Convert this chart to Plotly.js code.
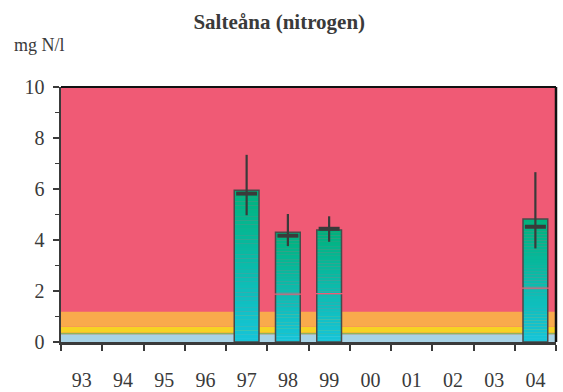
<!DOCTYPE html>
<html>
<head>
<meta charset="utf-8">
<script src="https://cdn.plot.ly/plotly-3.0.1.min.js"></script>
<style>
html,body{margin:0;padding:0;background:#fff;}
#chart{width:563px;height:392px;}
#chart text{font-family:"Liberation Serif","Times New Roman","DejaVu Serif",serif !important;}
</style>
</head>
<body>
<div id="chart"></div>
<script>
// ---- data ----
const years = ['93','94','95','96','97','98','99','00','01','02','03','04'];
const barValues  = [null,null,null,null,5.95,4.30,4.39,null,null,null,null,4.82];
const meanValues = [null,null,null,null,5.82,4.17,4.44,null,null,null,null,4.52];
const maxValues  = [null,null,null,null,7.34,5.02,4.93,null,null,null,null,6.66];
const minValues  = [null,null,null,null,4.97,3.76,3.93,null,null,null,null,3.67];
const innerLine  = [null,null,null,null,null,1.88,1.90,null,null,null,null,2.11];
// classification bands (mg N/l)
const bandLimits = [0, 0.3, 0.36, 0.6, 1.2, 10];
const bandColors = ['#a8d3e6','#8cb45c','#f6d324','#f9aa4c','#f05a75'];

// ---- gradient bars built from barValues ----
const N = 40;
const gradTop = [0,178,125], gradBot = [22,196,216];
const traces = [];
for (let i = 0; i < N; i++) {
  const t = i / (N - 1);
  const c = gradBot.map((b, k) => Math.round(b + (gradTop[k] - b) * t));
  traces.push({
    type: 'bar', x: years,
    y: barValues.map(v => v == null ? null : v / N * (i === N - 1 ? 1 : 1.04)),
    base: barValues.map(v => v == null ? null : v * i / N),
    width: 0.6,
    marker: {color: `rgb(${c[0]},${c[1]},${c[2]})`, line: {width: 0}},
    hoverinfo: 'skip', showlegend: false
  });
}
// outline
traces.push({
  type: 'bar', x: years, y: barValues, base: 0, width: 0.6,
  marker: {color: 'rgba(0,0,0,0)', line: {color: '#4a4a4a', width: 1.5}},
  showlegend: false
});
// inner red lines
traces.push({
  type: 'scatter', mode: 'markers', x: years, y: innerLine,
  marker: {symbol: 'line-ew', size: 23, line: {color: '#f05a75', width: 1.2}},
  showlegend: false
});
// mean with range
traces.push({
  type: 'scatter', mode: 'markers', x: years, y: meanValues,
  marker: {symbol: 'line-ew', size: 15, line: {color: '#3a3a3a', width: 4}},
  error_y: {type: 'data', symmetric: false,
    array: maxValues.map((v, i) => v == null ? null : v - meanValues[i]),
    arrayminus: minValues.map((v, i) => v == null ? null : meanValues[i] - v),
    color: '#3a3a3a', thickness: 2.2, width: 0},
  showlegend: false
});

const shapes = bandColors.map((c, i) => ({
  type: 'rect', xref: 'paper', yref: 'y', x0: 0, x1: 1,
  y0: bandLimits[i], y1: bandLimits[i + 1],
  fillcolor: c, line: {width: 0}, layer: 'below'
}));
// top & right frame
shapes.push({type: 'line', xref: 'paper', yref: 'paper', x0: 0, x1: 1, y0: 1, y1: 1, line: {color: '#111', width: 2}});
shapes.push({type: 'line', xref: 'paper', yref: 'paper', x0: 1, x1: 1, y0: 0, y1: 1, line: {color: '#111', width: 2.5}});

const fam = 'Liberation Serif';
const ink = '#3a3a3a';
const layout = {
  width: 563, height: 392,
  margin: {l: 61, r: 7, t: 87, b: 50},
  paper_bgcolor: '#ffffff', plot_bgcolor: '#f05a75',
  barmode: 'overlay', showlegend: false,
  font: {family: fam, color: ink},
  title: {text: '<b>Salteåna (nitrogen)</b>', font: {family: fam, size: 21, color: ink},
    xref: 'container', x: 0.496, xanchor: 'center', yref: 'container', y: 1 - 22/392, yanchor: 'middle'},
  xaxis: {type: 'category', categoryarray: years, range: [-0.5, 11.5],
    tickson: 'boundaries', ticks: 'outside', ticklen: 6, tickwidth: 2, tickcolor: ink,
    showline: true, linecolor: ink, linewidth: 2.5, showgrid: false, zeroline: false,
    ticklabelstandoff: 18, tickfont: {family: fam, size: 20, color: ink}},
  yaxis: {range: [0, 10], dtick: 2, tick0: 0, ticks: 'outside', ticklen: 6, tickwidth: 2, tickcolor: ink,
    minor: {dtick: 1, ticks: 'outside', ticklen: 4, tickwidth: 1.5, tickcolor: ink},
    showline: true, linecolor: ink, linewidth: 2.5, showgrid: false, zeroline: false,
    ticklabelstandoff: 4, tickfont: {family: fam, size: 20, color: ink}},
  shapes: shapes,
  annotations: [{text: 'mg N/l', xref: 'paper', yref: 'paper', x: -0.099, xanchor: 'left',
    y: 1.166, yanchor: 'middle', showarrow: false, font: {family: fam, size: 18, color: ink}}]
};
Plotly.newPlot('chart', traces, layout, {displayModeBar: false, staticPlot: true});
</script>
</body>
</html>
